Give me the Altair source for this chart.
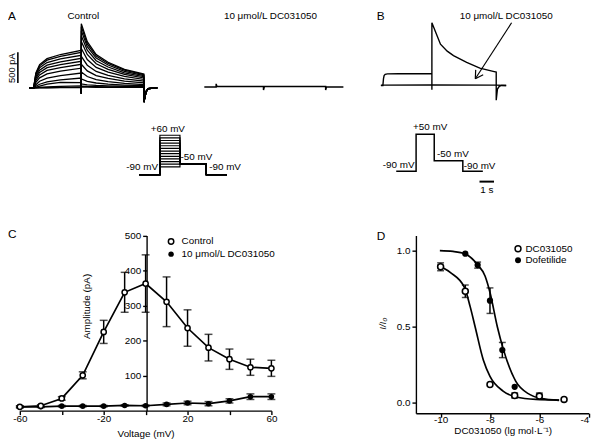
import altair as alt
import pandas as pd

FONT = "Liberation Sans"
W, H = 592, 438          # whole drawing area (window minus the 8px page margin)
M = 8


def gx(p):
    return p - M


def gy(p):
    return p - M


# ---------------- Panel A: control current traces (pA vs ms) ----------------
a_sweep_mv = [60, 50, 40, 30, 20, 10, 0, -10, -20, -30, -40, -50, -60]
a_step_ms = [0, 150, 400, 900, 1800, 3200]
a_step_pa = [
    [0, 245, 380, 477, 545, 612],
    [0, 232, 360, 452, 516, 580],
    [0, 212, 329, 414, 473, 531],
    [0, 183, 290, 372, 425, 483],
    [0, 157, 252, 330, 379, 435],
    [0, 124, 212, 285, 332, 386],
    [0, 90, 164, 229, 274, 322],
    [0, 53, 109, 160, 201, 242],
    [0, 26, 60, 98, 132, 161],
    [0, 10, 30, 62, 90, 85],
    [0, 3, 8, 16, 26, 32],
    [0, 1, 3, 6, 10, 14],
    [0, 0, 1, 2, 4, 6],
]
a_tail_ms = [3200, 3600, 4200, 5000, 6100, 7400]
a_tail_pa = [
    [1047, 754, 544, 419, 304, 225],
    [998, 719, 519, 399, 289, 215],
    [934, 672, 486, 374, 271, 201],
    [853, 614, 444, 341, 247, 183],
    [757, 545, 394, 303, 220, 163],
    [644, 464, 335, 258, 187, 138],
    [515, 371, 268, 206, 149, 111],
    [386, 278, 201, 154, 112, 83],
    [258, 186, 134, 103, 75, 55],
    [145, 107, 80, 62, 47, 36],
    [64, 50, 40, 33, 27, 22],
    [30, 25, 21, 18, 15, 13],
    [14, 12, 10, 9, 8, 7],
]
a_pre_ms, a_pre_pa = [-300], [0]
a_jump_ms, a_jump_pa = [3200], [-90]
a_return_ms = [7400, 7550, 7700, 8300]
a_return_pa = [-230, -60, -10, 0]

# Panel A: 10 umol/L DC031050 trace
a_drug_ms = [-800, 0, 0, 60, 3200, 3200, 3260, 7400, 7400, 7460, 8600]
a_drug_pa = [0, 0, 50, 5, 8, -50, 6, 6, -50, 0, 0]
a_scalebar_pa = [80, 580]

# Panel B traces
b_ctrl_ms = [-130, 0, 40, 80, 150, 300, 1000, 3200, 3200, 3200, 3460, 3760, 4200,
             4610, 5470, 6330, 7200, 7400, 7400, 7480, 7600, 7750, 8050]
b_ctrl_pa = [0, 0, 110, 160, 180, 188, 190, 190, -70, 1022, 861, 673, 560,
             486, 378, 282, 229, 217, -240, -60, -15, 0, 0]
b_drug_ms = [-130, 0, 3200, 7400, 8050]
b_drug_pa = [0, 6, 8, 6, 0]

# Voltage protocols
prot_a_steps_mv = [-60, -50, -40, -30, -20, -10, 0, 10, 20, 30, 40, 50, 60]
prot_a_ms = [-3300, 0, 0, 3200, 3200, 7400, 7400, 10700]
prot_hold_mv, prot_tail_mv = -90, -50
prot_b_s = [-1.37, 0, 0, 1.25, 1.25, 3.22, 3.22, 4.6]
prot_b_mv = [-90, -90, 50, 50, -50, -50, -90, -90]
scalebar_b_s = [4.37, 5.37]

# ---------------- Panel C: I-V relation ----------------
voltage = [-60, -50, -40, -30, -20, -10, 0, 10, 20, 30, 40, 50, 60]
control_amp = [11, 14, 35, 101, 225, 338, 363, 311, 236, 180, 147, 124, 121]
control_err = [3, 3, 5, 10, 33, 57, 82, 71, 52, 38, 29, 23, 23]
drug_amp = [11, 11, 13, 13, 13, 15, 14, 18, 22, 20, 28, 40, 40]
drug_err = [2, 2, 2, 2, 2, 2, 2, 4, 5, 6, 6, 8, 8]

# ---------------- Panel D: concentration-response ----------------
dc_conc = [-10, -9, -8, -7, -6, -5]
dc_frac = [0.894, 0.733, 0.119, 0.047, 0.043, 0.021]
dc_err = [0.026, 0.041, 0.0, 0.017, 0.02, 0.0]
dof_conc = [-9, -8.5, -8, -7.5, -7]
dof_frac = [0.98, 0.905, 0.671, 0.346, 0.104]
dof_err = [0.0, 0.02, 0.084, 0.05, 0.0]
dc_fit_x = [-10.13, -9.6, -9.03, -8.8, -8.6, -8.27, -8.0, -7.47, -6.94, -6.14, -5.2]
dc_fit_y = [0.905, 0.855, 0.757, 0.63, 0.498, 0.281, 0.173, 0.076, 0.037, 0.021, 0.017]
dof_fit_x = [-10.03, -9.5, -9.0, -8.51, -8.2, -8.0, -7.7, -7.47, -6.96, -6.4, -5.96, -5.2]
dof_fit_y = [1.0, 0.995, 0.979, 0.909, 0.833, 0.725, 0.498, 0.357, 0.141, 0.054, 0.028, 0.015]

# ---------------- tables ----------------
rows = []
for mv, sp, tp in zip(a_sweep_mv, a_step_pa, a_tail_pa):
    seq = (list(zip(a_pre_ms, a_pre_pa)) + list(zip(a_step_ms, sp)) + list(zip(a_jump_ms, a_jump_pa))
           + list(zip(a_tail_ms, tp)) + list(zip(a_return_ms, a_return_pa)))
    for k, (t, i) in enumerate(seq):
        rows.append({"sweep": mv, "k": k, "t": t, "i": i})
a_df = pd.DataFrame(rows)
a_drug_df = pd.DataFrame({"t": a_drug_ms, "i": a_drug_pa, "k": range(len(a_drug_ms))})
b_df = pd.concat([
    pd.DataFrame({"t": b_ctrl_ms, "i": b_ctrl_pa, "k": range(len(b_ctrl_ms)), "tr": "ctrl"}),
    pd.DataFrame({"t": b_drug_ms, "i": b_drug_pa, "k": range(len(b_drug_ms)), "tr": "drug"}),
])
prows = []
for v in prot_a_steps_mv:
    levels = [prot_hold_mv, prot_hold_mv, v, v, prot_tail_mv, prot_tail_mv, prot_hold_mv, prot_hold_mv]
    for k, (t, mv) in enumerate(zip(prot_a_ms, levels)):
        prows.append({"step": v, "k": k, "t": t, "mv": mv})
prot_a_df = pd.DataFrame(prows)
prot_b_df = pd.DataFrame({"t": prot_b_s, "mv": prot_b_mv, "k": range(len(prot_b_s))})

c_df = pd.DataFrame({
    "volt": voltage + voltage,
    "amp": control_amp + drug_amp,
    "err": control_err + drug_err,
    "series": ["Control"] * len(voltage) + ["Drug"] * len(voltage),
})
c_df["lo"] = c_df["amp"] - c_df["err"]
c_df["hi"] = c_df["amp"] + c_df["err"]

d_df = pd.DataFrame({
    "conc": dc_conc + dof_conc,
    "frac": dc_frac + dof_frac,
    "err": dc_err + dof_err,
    "series": ["DC031050"] * len(dc_conc) + ["Dofetilide"] * len(dof_conc),
})
d_df["lo"] = d_df["frac"] - d_df["err"]
d_df["hi"] = d_df["frac"] + d_df["err"]
d_fit = pd.concat([
    pd.DataFrame({"conc": dc_fit_x, "frac": dc_fit_y, "series": "DC031050"}),
    pd.DataFrame({"conc": dof_fit_x, "frac": dof_fit_y, "series": "Dofetilide"}),
])

one = pd.DataFrame({"v": [0]})
BLACK = "black"

# ---------------- Panel A ----------------
a_xs = alt.Scale(domain=[-300, 8300], range=[gx(29.47), gx(159.3)], nice=False, zero=False)
a_ys = alt.Scale(domain=[-300, 1300], range=[gy(104.63), gy(5.25)], nice=False, zero=False)
panel_a = alt.layer(
    alt.Chart(a_df).mark_line(color=BLACK, strokeWidth=1.3).encode(
        x=alt.X("t:Q", scale=a_xs, axis=None),
        y=alt.Y("i:Q", scale=a_ys, axis=None),
        detail="sweep:N",
        order=alt.Order("k:Q"),
    ),
    alt.Chart(pd.DataFrame({"lo": [a_scalebar_pa[0]], "hi": [a_scalebar_pa[1]]})).mark_rule(
        color=BLACK, strokeWidth=1.6).encode(
        x=alt.value(gx(18)),
        y=alt.Y("lo:Q", scale=a_ys, axis=None),
        y2="hi:Q",
    ),
)

a_dxs = alt.Scale(domain=[-800, 8600], range=[gx(207), gx(348)], nice=False, zero=False)
a_dys = alt.Scale(domain=[-300, 1300], range=[gy(103.63), gy(4.25)], nice=False, zero=False)
panel_a_drug = alt.Chart(a_drug_df).mark_line(color=BLACK, strokeWidth=1.5).encode(
    x=alt.X("t:Q", scale=a_dxs, axis=None),
    y=alt.Y("i:Q", scale=a_dys, axis=None),
    order=alt.Order("k:Q"),
)

# ---------------- Panel B ----------------
b_xs = alt.Scale(domain=[-130, 8050], range=[gx(386), gx(513)], nice=False, zero=False)
b_ys = alt.Scale(domain=[-300, 1300], range=[gy(102.13), gy(2.75)], nice=False, zero=False)
panel_b = alt.Chart(b_df).mark_line(color=BLACK, strokeWidth=1.4).encode(
    x=alt.X("t:Q", scale=b_xs, axis=None),
    y=alt.Y("i:Q", scale=b_ys, axis=None),
    detail="tr:N",
    order=alt.Order("k:Q"),
)

# ---------------- Protocols ----------------
pa_xs = alt.Scale(domain=[-3300, 10700], range=[gx(141), gx(230)], nice=False, zero=False)
pa_ys = alt.Scale(domain=[-90, 60], range=[gy(174), gy(134)], nice=False, zero=False)
prot_a = alt.Chart(prot_a_df).mark_line(color=BLACK, strokeWidth=1.2).encode(
    x=alt.X("t:Q", scale=pa_xs, axis=None),
    y=alt.Y("mv:Q", scale=pa_ys, axis=None),
    detail="step:N",
    order=alt.Order("k:Q"),
)

pb_xs = alt.Scale(domain=[-1.4, 6.8], range=[gx(401.1), gx(521.7)], nice=False, zero=False)
pb_ys = alt.Scale(domain=[-90, 50], range=[gy(170.5), gy(133)], nice=False, zero=False)
prot_b = alt.layer(
    alt.Chart(prot_b_df).mark_line(color=BLACK, strokeWidth=1.5).encode(
        x=alt.X("t:Q", scale=pb_xs, axis=None),
        y=alt.Y("mv:Q", scale=pb_ys, axis=None),
        order=alt.Order("k:Q"),
    ),
    alt.Chart(pd.DataFrame({"a": [scalebar_b_s[0]], "b": [scalebar_b_s[1]]})).mark_rule(
        color=BLACK, strokeWidth=2).encode(
        x=alt.X("a:Q", scale=pb_xs, axis=None),
        x2="b:Q",
        y=alt.value(gy(181)),
    ),
)

# ---------------- Panel C ----------------
c_xs = alt.Scale(domain=[-60, 60], range=[gx(20), gx(275)], nice=False, zero=False)
c_ys = alt.Scale(domain=[0, 500], range=[gy(413.2), gy(235.7)], nice=False, zero=False)
c_xaxis = alt.Axis(orient="bottom", offset=gy(413.2) - H, values=[-60, -40, -20, 0, 20, 40, 60],
                   labelExpr="datum.value % 40 == 0 ? '' : '' + datum.value", title=None,
                   labelPadding=-1, labelFlush=False, labelOverlap=False)
c_yaxis = alt.Axis(orient="left", offset=-gx(148.5), values=[100, 200, 300, 400, 500], title=None,
                   labelPadding=2, labelFlush=False, labelOverlap=False)


def cx():
    return alt.X("volt:Q", scale=c_xs, axis=c_xaxis)


def cy(field):
    return alt.Y(field + ":Q", scale=c_ys, axis=c_yaxis)


cb = alt.Chart(c_df)
ctrl = alt.datum.series == "Control"
drug = alt.datum.series == "Drug"
panel_c = alt.layer(
    cb.transform_filter(ctrl).mark_line(color=BLACK, strokeWidth=1.7).encode(x=cx(), y=cy("amp")),
    cb.transform_filter(drug).mark_line(color=BLACK, strokeWidth=1.7).encode(x=cx(), y=cy("amp")),
    cb.mark_rule(color=BLACK, strokeWidth=1.5).encode(x=cx(), y=cy("lo"), y2="hi:Q"),
    cb.mark_tick(orient="horizontal", size=8, thickness=1.5, color=BLACK).encode(x=cx(), y=cy("lo")),
    cb.mark_tick(orient="horizontal", size=8, thickness=1.5, color=BLACK).encode(x=cx(), y=cy("hi")),
    cb.transform_filter(drug).mark_point(shape="circle", filled=True, color=BLACK, size=32,
                                         opacity=1).encode(x=cx(), y=cy("amp")),
    cb.transform_filter(ctrl).mark_point(shape="circle", filled=True, fill="white", stroke=BLACK,
                                         strokeWidth=1.5, size=28, opacity=1).encode(x=cx(), y=cy("amp")),
)

# ---------------- Panel D ----------------
d_xs = alt.Scale(domain=[-11, -4], range=[gx(421.5), gx(596.7)], nice=False, zero=False)
d_ys = alt.Scale(domain=[-0.07, 1.1], range=[gy(415.8), gy(235.6)], nice=False, zero=False)
d_xaxis = alt.Axis(orient="bottom", offset=gy(415.8) - H, values=[-10, -8, -6, -4],
                   labelExpr="'' + datum.value", title=None, labelPadding=-3,
                   labelAlign=alt.expr("datum.value == -4 ? 'right' : 'center'"),
                   labelFlush=False, labelOverlap=False)
d_yaxis = alt.Axis(orient="left", offset=-gx(421.5), values=[0, 0.5, 1.0], format=".1f", title=None,
                   labelPadding=2, labelFlush=False, labelOverlap=False)


def dx():
    return alt.X("conc:Q", scale=d_xs, axis=d_xaxis)


def dy(field):
    return alt.Y(field + ":Q", scale=d_ys, axis=d_yaxis)


db = alt.Chart(d_df)
d_err_rows = alt.datum.err > 0
is_dc = alt.datum.series == "DC031050"
is_dof = alt.datum.series == "Dofetilide"
panel_d = alt.layer(
    alt.Chart(d_fit).mark_line(color=BLACK, strokeWidth=1.7, interpolate="monotone").encode(
        x=dx(), y=dy("frac"), detail="series:N"),
    db.transform_filter(d_err_rows).mark_rule(color=BLACK, strokeWidth=1.5).encode(
        x=dx(), y=dy("lo"), y2="hi:Q"),
    db.transform_filter(d_err_rows).mark_tick(orient="horizontal", size=7, thickness=1.5,
                                              color=BLACK).encode(x=dx(), y=dy("lo")),
    db.transform_filter(d_err_rows).mark_tick(orient="horizontal", size=7, thickness=1.5,
                                              color=BLACK).encode(x=dx(), y=dy("hi")),
    db.transform_filter(is_dof).mark_point(shape="circle", filled=True, color=BLACK, size=40,
                                           opacity=1).encode(x=dx(), y=dy("frac")),
    db.transform_filter(is_dc).mark_point(shape="circle", filled=True, fill="white", stroke=BLACK,
                                          strokeWidth=1.6, size=36, opacity=1).encode(x=dx(), y=dy("frac")),
)


# ---------------- annotations ----------------
def txt(text, x, y, size=10, align="center", baseline="middle", angle=0, italic=False):
    kw = dict(text=text, align=align, baseline=baseline, fontSize=size, font=FONT, color=BLACK)
    if angle:
        kw["angle"] = angle
    if italic:
        kw["fontStyle"] = "italic"
    return alt.Chart(one).mark_text(**kw).encode(x=alt.value(gx(x)), y=alt.value(gy(y)))


def sym(x, y, filled, size=30):
    if filled:
        m = alt.Chart(one).mark_point(shape="circle", filled=True, color=BLACK, size=size, opacity=1)
    else:
        m = alt.Chart(one).mark_point(shape="circle", filled=True, fill="white", stroke=BLACK,
                                      strokeWidth=1.5, size=size, opacity=1)
    return m.encode(x=alt.value(gx(x)), y=alt.value(gy(y)))


def seg(x1, y1, x2, y2, w=1.2):
    return alt.Chart(one).mark_rule(color=BLACK, strokeWidth=w).encode(
        x=alt.value(gx(x1)), y=alt.value(gy(y1)), x2=alt.value(gx(x2)), y2=alt.value(gy(y2)))


drug_label = "10 μmol/L DC031050"
notes = [
    txt("A", 8, 8, 12, "left", "top"),
    txt("Control", 84.3, 8, 10, "center", "top"),
    txt(drug_label, 274, 8, 10, "center", "top"),
    txt("B", 381.7, 8, 12, "left", "top"),
    txt(drug_label, 513, 8, 10, "center", "top"),
    seg(518.5, 20, 481.7, 76.7),
    seg(481.7, 76.7, 489.7, 72.6),
    seg(481.7, 76.7, 482.1, 67.7),
    txt("500 pA", 12, 66, 9.5, "center", "middle", 270),
    txt("+60 mV", 170, 128, 10),
    txt("-90 mV", 144, 166.5, 10),
    txt("-50 mV", 199, 156.5, 10),
    txt("-90 mV", 228, 166.5, 10),
    txt("+50 mV", 436, 126, 10),
    txt("-50 mV", 459, 152.7, 10),
    txt("-90 mV", 404, 164, 10),
    txt("-90 mV", 486, 165, 10),
    txt("1 s", 493.3, 190, 10),
    txt("C", 8, 229, 12, "left", "top"),
    txt("Amplitude (pA)", 88.3, 307.5, 10, "center", "middle", 270),
    txt("Voltage (mV)", 148, 436.5, 10),
    sym(173.3, 241.7, False),
    txt("Control", 184, 241.7, 10, "left"),
    sym(173.3, 254.5, True),
    txt(drug_label, 184, 254.5, 10, "left"),
    txt("D", 381.7, 231, 12, "left", "top"),
    txt("I/I₀", 388.3, 325, 10, "center", "middle", 270, True),
    txt("DC031050 (lg mol·L⁻¹)", 510, 434, 10),
    sym(525, 249, False, 36),
    txt("DC031050", 532.5, 249, 10, "left"),
    sym(525, 260.7, True, 36),
    txt("Dofetilide", 532.5, 260.7, 10, "left"),
]

chart = alt.layer(
    panel_a, panel_a_drug, panel_b, prot_a, prot_b, panel_c, panel_d, *notes
).resolve_scale(
    x="independent", y="independent"
).properties(
    width=W, height=H, padding=0, autosize=alt.AutoSizeParams(type="none")
).configure_view(
    strokeWidth=0
).configure_axis(
    grid=False, domainColor=BLACK, domainWidth=1.4, tickColor=BLACK, tickWidth=1.4, tickSize=4,
    labelFont=FONT, labelFontSize=10, labelColor=BLACK
)

chart.save("out.html", embed_options={"renderer": "svg", "actions": False})
